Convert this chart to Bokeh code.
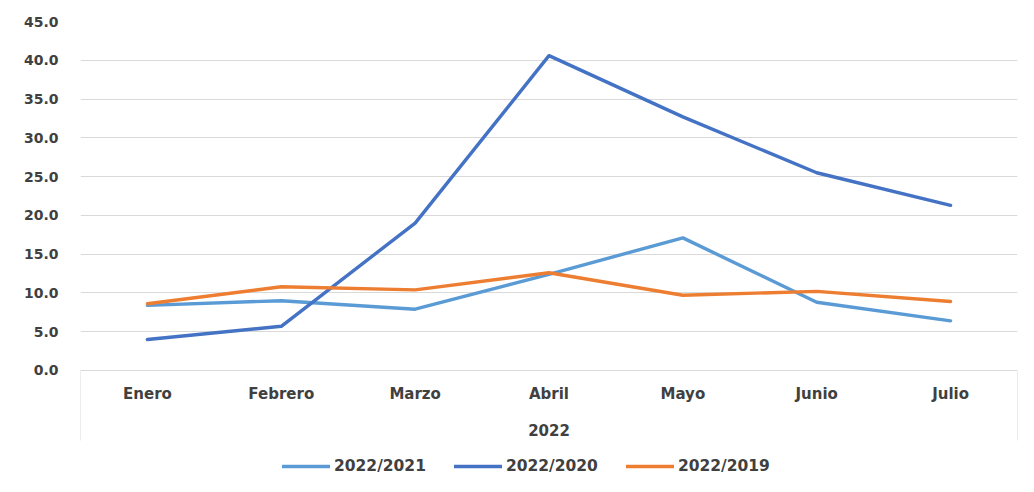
from bokeh.plotting import figure
from bokeh.models import FactorRange, Range1d, FixedTicker, NumeralTickFormatter
from bokeh.core.properties import value
from bokeh.embed import file_html
from bokeh.resources import INLINE

months = ["Enero", "Febrero", "Marzo", "Abril", "Mayo", "Junio", "Julio"]
group_label = "2022"
s2021 = [8.4, 9.0, 7.9, 12.4, 17.1, 8.8, 6.4]
s2020 = [4.0, 5.7, 19.0, 40.6, 32.7, 25.5, 21.3]
s2019 = [8.6, 10.8, 10.4, 12.6, 9.7, 10.2, 8.9]
names = ["2022/2021", "2022/2020", "2022/2019"]
colors = ["#5B9BD5", "#4472C4", "#ED7D31"]
y_ticks = [0, 5, 10, 15, 20, 25, 30, 35, 40, 45]

FONT = "DejaVu Sans"
TXT = "#404040"

p = figure(
    x_range=FactorRange(*months, range_padding=0, factor_padding=0),
    y_range=Range1d(-14.70, 45),
    width=1026, height=484,
    output_backend="svg", toolbar_location=None,
    x_axis_location=None,
    min_border_left=80, min_border_right=9, min_border_top=21, min_border_bottom=0,
)
p.outline_line_color = None
p.xgrid.grid_line_color = None
p.ygrid.grid_line_color = "#D9D9D9"
p.ygrid.grid_line_width = 1

ya = p.yaxis[0]
ya.ticker = FixedTicker(ticks=y_ticks)
ya.formatter = NumeralTickFormatter(format="0.0")
ya.axis_line_color = None
ya.major_tick_line_color = None
ya.minor_tick_line_color = None
ya.major_label_standoff = 16
ya.major_label_text_font = FONT
ya.major_label_text_font_style = "bold"
ya.major_label_text_font_size = "14px"
ya.major_label_text_color = TXT

# category box (axis area)
p.segment(x0=[("Enero", -0.5), ("Julio", 0.5)], y0=[0, 0],
          x1=[("Enero", -0.5), ("Julio", 0.5)], y1=[-9.03, -9.03],
          line_color="#D9D9D9", line_width=1)

# category labels
p.text(x=months, y=[-2.97] * len(months), text=months,
       text_font=value(FONT), text_font_style="bold", text_font_size="15px",
       text_color=TXT, text_align="center", text_baseline="middle")
p.text(x=["Abril"], y=[-7.61], text=[group_label],
       text_font=value(FONT), text_font_style="bold", text_font_size="15px",
       text_color=TXT, text_align="center", text_baseline="middle")

for name, vals, col in zip(names, [s2021, s2020, s2019], colors):
    p.line(x=months, y=vals, line_color=col, line_width=3.4,
           line_join="round", line_cap="round", legend_label=name)

lg = p.legend[0]
lg.orientation = "horizontal"
lg.location = (202, 8)
lg.padding = 0
lg.margin = 0
lg.spacing = 28
lg.glyph_width = 48
lg.glyph_height = 20
lg.label_standoff = 4
lg.border_line_color = None
lg.background_fill_alpha = 0
lg.label_text_font = FONT
lg.label_text_font_style = "bold"
lg.label_text_font_size = "15.5px"
lg.label_text_color = TXT

open("out.html", "w").write(file_html(p, INLINE))
